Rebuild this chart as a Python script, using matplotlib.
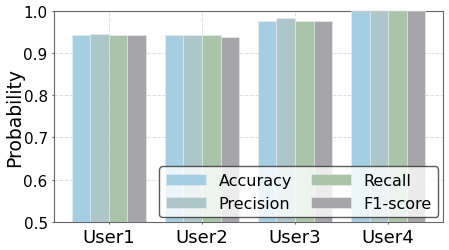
import matplotlib
matplotlib.use('Agg')
import matplotlib.pyplot as plt
import numpy as np

users = ['User1', 'User2', 'User3', 'User4']
metrics = ['Accuracy', 'Precision', 'Recall', 'F1-score']
accuracy = [0.943, 0.942, 0.976, 1.0]
precision = [0.946, 0.942, 0.982, 1.0]
recall = [0.942, 0.942, 0.976, 1.0]
f1_score = [0.942, 0.937, 0.976, 1.0]
colors = ['#a6cee2', '#adc6c9', '#aac4a9', '#a5a5aa']

fig, ax = plt.subplots(figsize=(4.49, 2.51), dpi=100)
x = np.arange(len(users))
width = 0.2
for i, (name, vals) in enumerate(zip(metrics, [accuracy, precision, recall, f1_score])):
    ax.bar(x + (i - 1.5) * width, vals, width, label=name, color=colors[i],
           edgecolor='#e8eef0', linewidth=0.4, zorder=3)

ax.set_ylim(0.5, 1.0)
ax.set_xticks(x)
ax.set_xticklabels(users, fontsize=13)
ax.tick_params(axis='y', labelsize=11, length=1.5, pad=3, color='#666666')
ax.tick_params(axis='x', length=1.5, pad=3, color='#666666')
ax.set_ylabel('Probability', fontsize=13.5)
ax.yaxis.set_label_coords(-0.077, 0.5)
ax.grid(True, linestyle='--', color='#dddddd', linewidth=0.7, zorder=0)
for s in ax.spines.values():
    s.set_color('#666666')
leg = ax.legend(ncol=2, loc='lower right', fontsize=11.5, frameon=True,
                edgecolor='#333333', fancybox=True, handlelength=2.5,
                columnspacing=1.2, borderaxespad=0.3)
leg.get_frame().set_linewidth(1.0)

plt.subplots_adjust(left=0.12, right=0.987, top=0.953, bottom=0.112)
plt.savefig('out.png', dpi=100)
